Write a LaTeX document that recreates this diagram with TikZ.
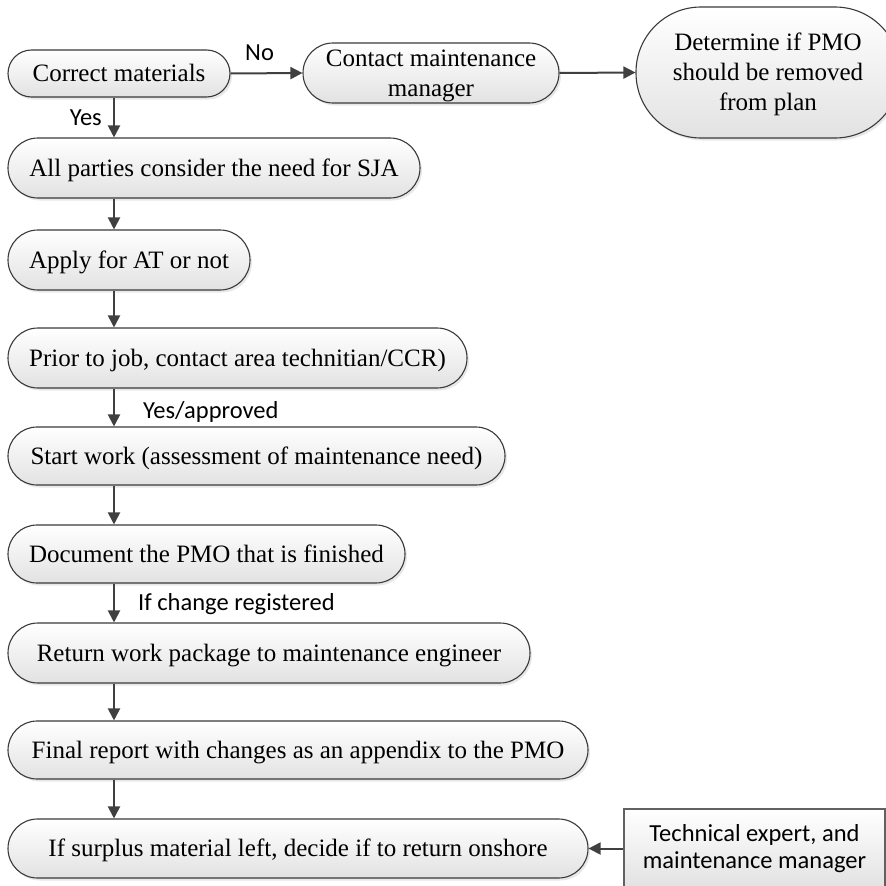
\documentclass[tikz,border=0pt]{standalone}
\usepackage{fontspec}
\setmainfont{Liberation Serif}
\newfontfamily\labelfont{Carlito}
\usetikzlibrary{arrows.meta,shadows}

\definecolor{edgegray}{HTML}{404040}
\definecolor{boxline}{HTML}{3A3A3A}
\definecolor{boxlow}{HTML}{E2E2E2}

\tikzset{
  stepnode/.style={draw=boxline, line width=1.1pt, top color=white, bottom color=boxlow,
    inner sep=0pt, align=center, font=\fontsize{25}{30}\selectfont,
    text height=22.3pt, text depth=5.4pt,
    drop shadow={shadow xshift=2pt, shadow yshift=-2.5pt, opacity=0.18}},
  pill/.style={stepnode, rounded corners=#1},
  twolines/.style={text height=52.3pt},
  threelines/.style={text height=82.3pt},
  notebox/.style={draw=boxline!80, line width=1.1pt, top color=white, bottom color=boxlow,
    inner sep=0pt, align=center, font=\labelfont\fontsize{24.5}{27}\selectfont,
    text height=45.4pt, text depth=6.1pt},
  lbl/.style={inner sep=0pt, font=\labelfont\fontsize{24.5}{29}\selectfont},
  arr/.style={draw=edgegray, line width=2pt, -{Triangle[length=12pt,width=12pt]}},
}

\begin{document}
\begin{tikzpicture}[x=1pt,y=-1pt]
  \useasboundingbox (0,0) rectangle (886,886);

  % main column
  \node[pill=23.5pt, minimum width=222pt, minimum height=47pt] (cm) at (119,73.5) {Correct materials};
  \node[pill=30pt, minimum width=412pt, minimum height=60pt] (sja) at (214,168) {All parties consider the need for SJA};
  \node[pill=30pt, minimum width=242pt, minimum height=60pt] (at) at (129,260) {Apply for AT or not};
  \node[pill=30pt, minimum width=459pt, minimum height=60pt] (prior) at (237.5,358) {Prior to job, contact area technitian/CCR)};
  \node[pill=29pt, minimum width=497pt, minimum height=58pt] (start) at (256.5,456) {Start work (assessment of maintenance need)};
  \node[pill=29pt, minimum width=397pt, minimum height=58pt] (doc) at (206.5,554) {Document the PMO that is finished};
  \node[pill=30pt, minimum width=522pt, minimum height=60pt] (ret) at (269,653) {Return work package to maintenance engineer};
  \node[pill=29pt, minimum width=580pt, minimum height=58pt] (fin) at (298,750) {Final report with changes as an appendix to the PMO};
  \node[pill=29.5pt, minimum width=580pt, minimum height=59pt] (sur) at (298,848.5) {If surplus material left, decide if to return onshore};

  % "No" branch
  \node[pill=30pt, twolines, minimum width=256pt, minimum height=60pt] (cmm) at (431,73) {Contact maintenance\\manager};
  \node[pill=65pt, threelines, minimum width=264pt, minimum height=131pt] (det) at (768,72.5) {Determine if PMO\\should be removed\\from plan};

  % side input
  \node[notebox, minimum width=261pt, minimum height=79pt] (tech) at (754.5,848.5) {Technical expert, and\\maintenance manager};

  % connectors
  \coordinate (spine) at (114,0);
  \draw[arr] (cm.east) -- (cmm.west);
  \draw[arr] (cmm.east) -- (det.west);
  \draw[arr] (cm.south -| spine) -- (sja.north -| spine);
  \draw[arr] (sja.south -| spine) -- (at.north -| spine);
  \draw[arr] (at.south -| spine) -- (prior.north -| spine);
  \draw[arr] (prior.south -| spine) -- (start.north -| spine);
  \draw[arr] (start.south -| spine) -- (doc.north -| spine);
  \draw[arr] (doc.south -| spine) -- (ret.north -| spine);
  \draw[arr] (ret.south -| spine) -- (fin.north -| spine);
  \draw[arr] (fin.south -| spine) -- (sur.north -| spine);
  \draw[arr] (tech.west) -- (sur.east);

  % connector labels
  \node[lbl, anchor=base west] (nolbl) at (245,60) {No};
  \node[lbl, anchor=base east] (yeslbl) at (102,125) {Yes};
  \node[lbl, anchor=base west] (oklbl) at (143,418) {Yes/approved};
  \node[lbl, anchor=base west] (chglbl) at (138,610) {If change registered};
\end{tikzpicture}
\end{document}
